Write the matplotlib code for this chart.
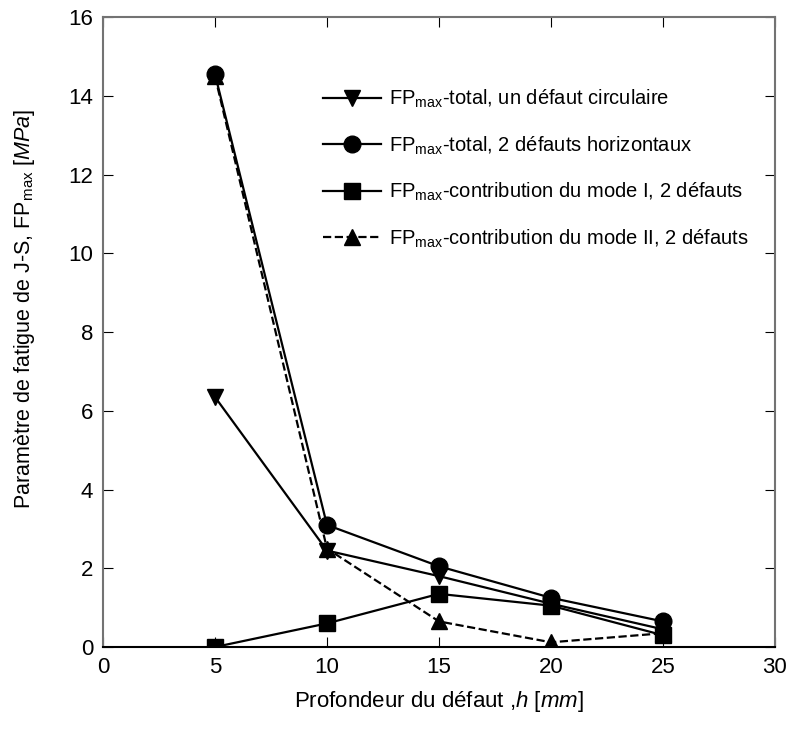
import matplotlib.pyplot as plt
import numpy as np

plt.rcParams['font.family'] = ['Liberation Sans', 'DejaVu Sans']
plt.rcParams['mathtext.fontset'] = 'custom'
plt.rcParams['mathtext.rm'] = 'Liberation Sans'
plt.rcParams['mathtext.it'] = 'Liberation Sans:italic'

# profondeur du defaut h [mm]
h = [5, 10, 15, 20, 25]
# FPmax [MPa]
fp_circ = [6.35, 2.45, 1.8, 1.1, 0.45]
fp_total2 = [14.55, 3.1, 2.05, 1.25, 0.65]
fp_mode1 = [0.0, 0.6, 1.35, 1.05, 0.3]
fp_mode2 = [14.5, 2.5, 0.65, 0.12, 0.35]

labels = ["FP$_{\\mathrm{max}}$-total, un défaut circulaire",
          "FP$_{\\mathrm{max}}$-total, 2 défauts horizontaux",
          "FP$_{\\mathrm{max}}$-contribution du mode I, 2 défauts",
          "FP$_{\\mathrm{max}}$-contribution du mode II, 2 défauts"]

fig = plt.figure(figsize=(7.92, 7.33), dpi=100)
ax = fig.add_axes([0.130, 0.1173, 0.8485, 0.8595])

ax.plot(h, fp_circ, 'k-', marker='v', ms=12, lw=1.6, label=labels[0])
ax.plot(h, fp_total2, 'k-', marker='o', ms=12, lw=1.6, label=labels[1])
ax.plot(h, fp_mode1, 'k-', marker='s', ms=12, lw=1.6, label=labels[2])
ax.plot(h, fp_mode2, 'k--', marker='^', ms=11, lw=1.6, label=labels[3])

ax.set_xlim(0, 30)
ax.set_ylim(0, 16)
ax.set_xticks(np.arange(0, 31, 5))
ax.set_yticks(np.arange(0, 17, 2))
ax.tick_params(direction='in', length=7, labelsize=16, top=True, right=True, pad=7)
for s in ['left', 'right', 'top']:
    ax.spines[s].set_color('0.45')
    ax.spines[s].set_linewidth(1.5)
ax.spines['bottom'].set_linewidth(1.5)

ax.set_xlabel("Profondeur du défaut ,$h\\ [mm]$", fontsize=16, labelpad=8)
ax.set_ylabel("Paramètre de fatigue de J-S, FP$_{\\mathrm{max}}$ [$MPa$]", fontsize=15.5)
ax.yaxis.set_label_coords(-0.098, 0.537)

leg = ax.legend(loc='upper left', bbox_to_anchor=(0.315, 0.9), frameon=False,
                fontsize=14.5, handlelength=2.9, labelspacing=1.2, handletextpad=0.4,
                borderaxespad=0)

fig.savefig('out.png', dpi=100)
